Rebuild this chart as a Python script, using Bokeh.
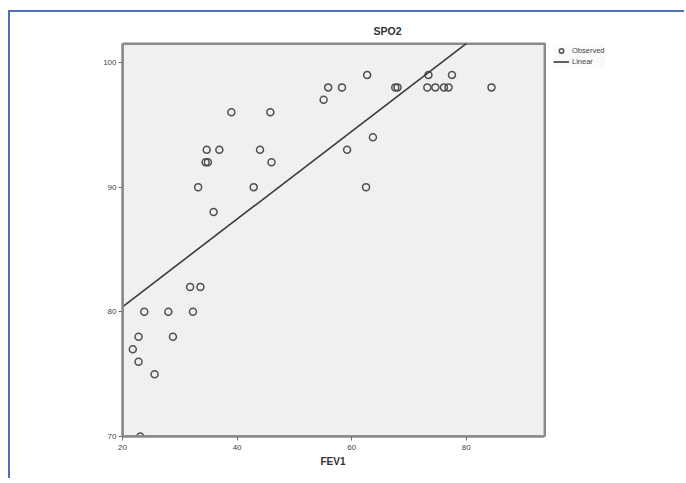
from bokeh.plotting import figure
from bokeh.models import ColumnDataSource, FixedTicker, Legend, LegendItem, Range1d, Title
from bokeh.embed import file_html
from bokeh.resources import INLINE

# Observed FEV1 / SPO2 pairs
fev1 = [23.8, 28.0, 32.3, 31.8, 33.6, 22.8, 28.8, 21.8, 22.8, 25.6, 23.1,
        39.0, 45.8, 34.7, 36.9, 44.0, 34.5, 34.9, 46.0, 33.2, 42.9, 35.9,
        55.9, 58.3, 55.1, 62.7, 67.6, 68.0, 63.7, 59.2, 62.5,
        73.4, 77.5, 73.2, 74.6, 76.1, 76.9, 84.4]
spo2 = [80, 80, 80, 82, 82, 78, 78, 77, 76, 75, 70,
        96, 96, 93, 93, 93, 92, 92, 92, 90, 90, 88,
        98, 98, 97, 99, 98, 98, 94, 93, 90,
        99, 99, 98, 98, 98, 98, 98]

# Linear fit
fit_intercept = 73.37
fit_slope = 0.3517

x_ticks = [20, 40, 60, 80]
y_ticks = [70, 80, 90, 100]

# axis extents of the chart box
x_min, x_max = 20, 93.7
y_min, y_max = 70, 101.5

FONT = "Liberation Sans"

p = figure(width=676, height=468, output_backend="svg", toolbar_location=None,
           x_range=Range1d(x_min, 110.4), y_range=Range1d(y_min, 102.0),
           min_border_left=112, min_border_right=46, min_border_top=25, min_border_bottom=44)
p.styles = {"border-top": "2px solid #4d72b8", "border-left": "2px solid #4d72b8",
            "margin-top": "10px", "margin-left": "8px"}

p.background_fill_color = "white"
p.border_fill_color = "white"
p.outline_line_color = None
p.grid.visible = False

# chart box
p.quad(left=[x_min], right=[x_max], bottom=[y_min], top=[y_max],
       fill_color="#f0f0f0", line_color="#8a8a8a", line_width=2.5)

src = ColumnDataSource(dict(x=fev1, y=spo2))
pts = p.scatter("x", "y", source=src, marker="circle", size=7, fill_color=None,
                line_color="#505050", line_width=1.5)

fit_x = [x_min, (y_max - fit_intercept) / fit_slope]
fit_y = [fit_intercept + fit_slope * v for v in fit_x]
ln = p.line(fit_x, fit_y, line_color="#3a3a3a", line_width=1.6)

for ax in (p.xaxis[0], p.yaxis[0]):
    ax.axis_line_color = "#8a8a8a"
    ax.axis_line_width = 2.5
    ax.major_tick_line_color = "#707070"
    ax.major_tick_line_width = 1
    ax.major_tick_out = 4
    ax.major_tick_in = 0
    ax.minor_tick_line_color = None
    ax.major_label_text_font = FONT
    ax.major_label_text_font_size = "8px"
    ax.major_label_text_color = "#444444"

p.yaxis.major_label_standoff = 2
p.xaxis.major_label_standoff = 4
p.xaxis.bounds = (x_min, x_max)
p.yaxis.bounds = (y_min, y_max)
p.xaxis.ticker = FixedTicker(ticks=x_ticks)
p.yaxis.ticker = FixedTicker(ticks=y_ticks)

t = Title(text="SPO2", align="left", offset=251, text_font=FONT, text_font_style="bold",
          text_font_size="10.5px", text_color="#333333", standoff=1)
p.add_layout(t, "above")

xl = Title(text="FEV1", align="left", offset=198, text_font=FONT, text_font_style="bold",
           text_font_size="10px", text_color="#333333", standoff=3)
p.add_layout(xl, "below")

legend = Legend(items=[LegendItem(label="Observed", renderers=[pts]),
                       LegendItem(label="Linear", renderers=[ln])],
                location=(431, 369), margin=0, padding=2, spacing=0,
                glyph_width=16, glyph_height=11, label_height=11,
                label_standoff=3, label_text_font=FONT, label_text_font_size="7.5px",
                label_text_color="#444444", border_line_color=None,
                background_fill_color="#fafafa")
p.add_layout(legend, "center")

open("out.html", "w").write(file_html(p, INLINE))
